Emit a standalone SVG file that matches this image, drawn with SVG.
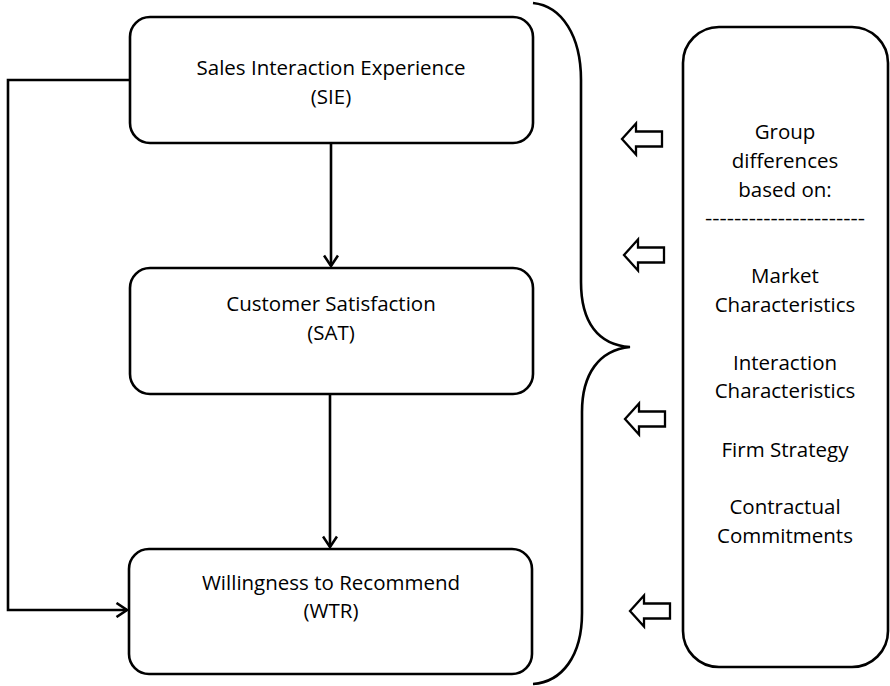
<svg xmlns="http://www.w3.org/2000/svg" width="890" height="686" viewBox="0 0 890 686">
<style>
.box{fill:#fff;stroke:#000;stroke-width:2.6}
.t{font-family:"Open Sans","Liberation Sans",sans-serif;font-size:20.5px;fill:#000;text-anchor:middle}
.c{fill:none;stroke:#000;stroke-width:2.6}
.blk{fill:#fff;stroke:#000;stroke-width:2.3;stroke-linejoin:miter}
</style>
<defs>
<marker id="ah" viewBox="0 0 14 16" refX="12.5" refY="8" markerWidth="14" markerHeight="16" markerUnits="userSpaceOnUse" orient="auto">
<path d="M2,1 L12.5,8 L2,15" fill="none" stroke="#000" stroke-width="2.6"/>
</marker>
<path id="blockarrow" d="M0,0 L14,-15.5 L14,-7.5 L40,-7.5 L40,7.5 L14,7.5 L14,15.5 Z"/>
</defs>
<g id="connectors">
<path class="c" d="M331,143 L331,266" marker-end="url(#ah)"/>
<path class="c" d="M330,394 L330,547" marker-end="url(#ah)"/>
<path class="c" d="M130,80 L8,80 L8,610 L127,610" marker-end="url(#ah)"/>
</g>
<g id="sie">
<rect class="box" x="130" y="17" width="403" height="126" rx="20"/>
<text class="t" x="331" y="75">Sales Interaction Experience</text>
<text class="t" x="331" y="104">(SIE)</text>
</g>
<g id="sat">
<rect class="box" x="130" y="268" width="403" height="126" rx="20"/>
<text class="t" x="331" y="311">Customer Satisfaction</text>
<text class="t" x="331" y="340">(SAT)</text>
</g>
<g id="wtr">
<rect class="box" x="129" y="549" width="403" height="125" rx="20"/>
<text class="t" x="331" y="590">Willingness to Recommend</text>
<text class="t" x="331" y="618">(WTR)</text>
</g>
<g id="brace">
<path class="c" d="M533,3 C562,6 581,36 581,80 L581,282 C581,322 598,345 630,347 C599,350 582,374 582,412 L582,613 C582,656 562,682 533,684"/>
</g>
<g id="block-arrows">
<use href="#blockarrow" class="blk" transform="translate(622,139)"/>
<use href="#blockarrow" class="blk" transform="translate(624,255)"/>
<use href="#blockarrow" class="blk" transform="translate(625,419)"/>
<use href="#blockarrow" class="blk" transform="translate(630,611)"/>
</g>
<g id="groups">
<rect class="box" x="683" y="27" width="205" height="640" rx="36"/>
<text class="t" x="785" y="139">Group</text>
<text class="t" x="785" y="168">differences</text>
<text class="t" x="785" y="197">based on:</text>
<text class="t" x="785" y="225" textLength="160" lengthAdjust="spacingAndGlyphs">----------------------</text>
<text class="t" x="785" y="283">Market</text>
<text class="t" x="785" y="312">Characteristics</text>
<text class="t" x="785" y="370">Interaction</text>
<text class="t" x="785" y="398">Characteristics</text>
<text class="t" x="785" y="457">Firm Strategy</text>
<text class="t" x="785" y="514">Contractual</text>
<text class="t" x="785" y="543">Commitments</text>
</g>
</svg>
